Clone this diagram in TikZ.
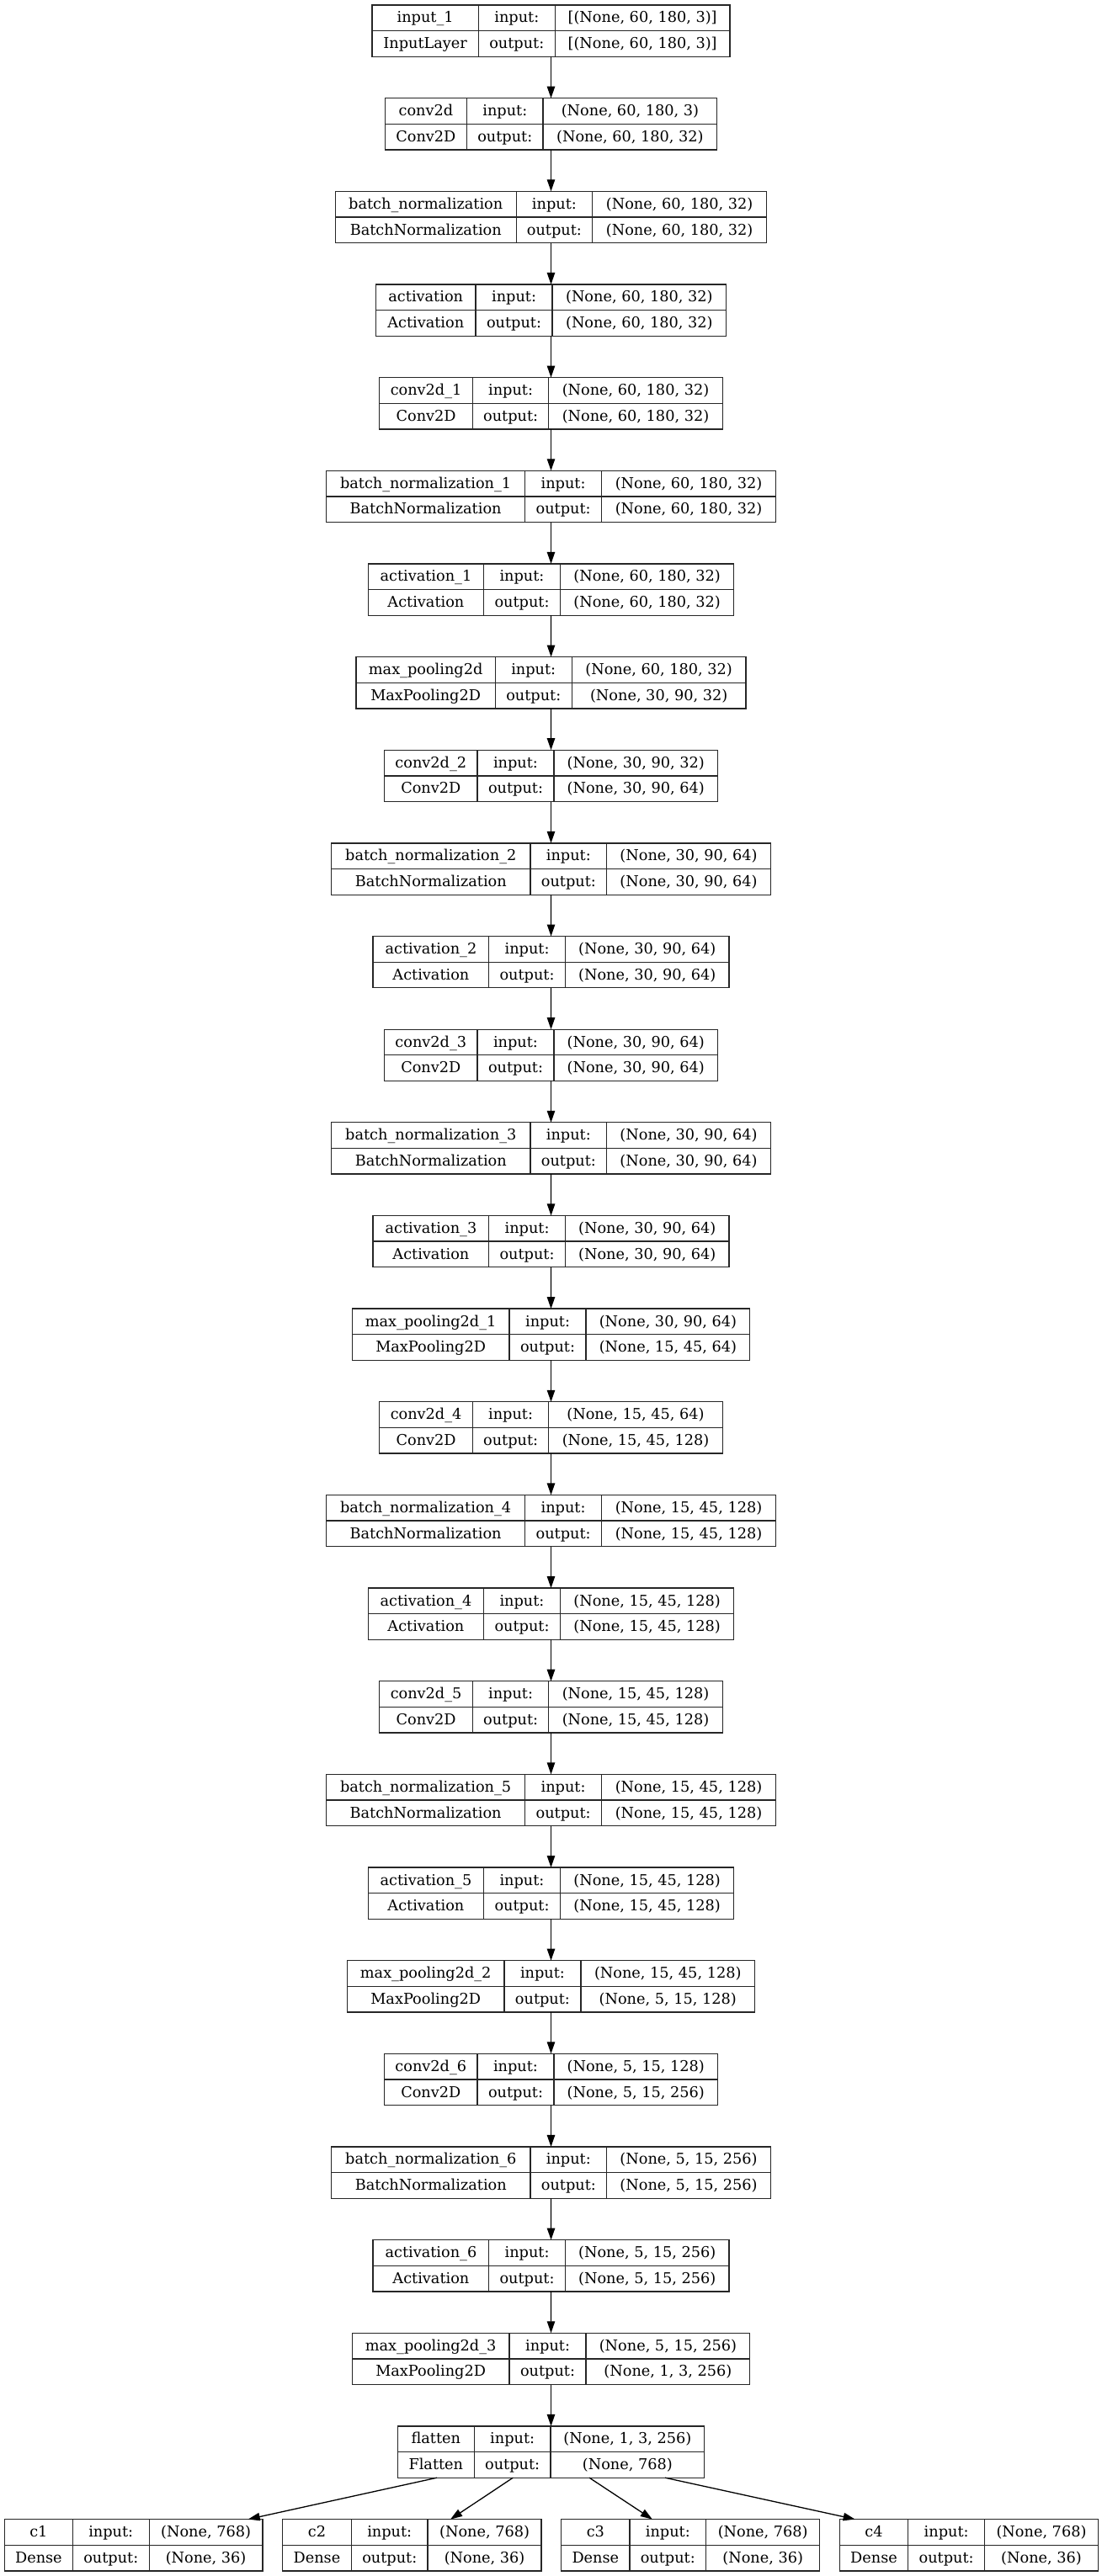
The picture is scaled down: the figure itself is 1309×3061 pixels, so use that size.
\documentclass[tikz,border=0pt]{standalone}
\usepackage{fontspec}
\setmainfont{DejaVu Serif}
\usetikzlibrary{arrows.meta,calc}
\def\getfour#1,#2,#3,#4\relax{\def\xL{#1}\def\xA{#2}\def\xB{#3}\def\xR{#4}}
\newcommand\nnlayer[7]{%
  \getfour#3\relax
  \pgfmathsetmacro\yT{6+#2*110.65}%
  \pgfmathsetmacro\yM{\yT+30.65}%
  \pgfmathsetmacro\yB{\yT+61.3}%
  \pgfmathsetmacro\yU{\yT+21}%
  \pgfmathsetmacro\yD{\yT+51.7}%
  \pgfmathsetmacro\layerw{(\xR-\xL)*0.5}%
  \node[layerbox,minimum width=\layerw pt] (#1) at ({(\xL+\xR)/2},\yM) {};
  \draw[cellline] (\xL,\yM) -- (\xR,\yM) (\xA,\yT) -- (\xA,\yB) (\xB,\yT) -- (\xB,\yB);
  \node[celltext] at ({(\xL+\xA)/2},\yU) {#4};
  \node[celltext] at ({(\xL+\xA)/2},\yD) {#5};
  \node[celltext] at ({(\xA+\xB)/2},\yU) {input:};
  \node[celltext] at ({(\xA+\xB)/2},\yD) {output:};
  \node[celltext] at ({(\xB+\xR)/2},\yU) {#6};
  \node[celltext] at ({(\xB+\xR)/2},\yD) {#7};
}
\begin{document}
\begin{tikzpicture}[x=0.5pt,y=-0.5pt,
  layerbox/.style={draw=black!85,line width=0.65pt,minimum height=30.65pt,inner sep=0pt,outer sep=0pt},
  cellline/.style={draw=black!85,line width=0.65pt},
  celltext/.style={anchor=base,inner sep=0pt,font=\fontsize{8.85pt}{10pt}\selectfont},
  arr/.style={line width=0.65pt,-{Triangle[length=7pt,width=4.7pt]}}]
\useasboundingbox (0,0) rectangle (1309,3061);
\def\BN{BatchNormalization}
\nnlayer{L0}{0}{442,568.3,659.3,867}{input\_1}{InputLayer}{[(None, 60, 180, 3)]}{[(None, 60, 180, 3)]}
\nnlayer{L1}{1}{457.2,554.6,645,851.8}{conv2d}{Conv2D}{(None, 60, 180, 3)}{(None, 60, 180, 32)}
\nnlayer{L2}{2}{398.3,613.2,703.6,910.7}{batch\_normalization}{\BN}{(None, 60, 180, 32)}{(None, 60, 180, 32)}
\nnlayer{L3}{3}{446.5,565,656.1,862.5}{activation}{Activation}{(None, 60, 180, 32)}{(None, 60, 180, 32)}
\nnlayer{L4}{4}{450.8,561.4,651.8,858.2}{conv2d\_1}{Conv2D}{(None, 60, 180, 32)}{(None, 60, 180, 32)}
\nnlayer{L5}{5}{387.6,623.6,714.6,921.4}{batch\_normalization\_1}{\BN}{(None, 60, 180, 32)}{(None, 60, 180, 32)}
\nnlayer{L6}{6}{437.2,574.6,665.4,871.8}{activation\_1}{Activation}{(None, 60, 180, 32)}{(None, 60, 180, 32)}
\nnlayer{L7}{7}{423.1,588.2,679.3,886}{max\_pooling2d}{MaxPooling2D}{(None, 60, 180, 32)}{(None, 30, 90, 32)}
\nnlayer{L8}{8}{456.5,567.1,657.9,852.5}{conv2d\_2}{Conv2D}{(None, 30, 90, 32)}{(None, 30, 90, 64)}
\nnlayer{L9}{9}{393.6,630,720.7,915.4}{batch\_normalization\_2}{\BN}{(None, 30, 90, 64)}{(None, 30, 90, 64)}
\nnlayer{L10}{10}{443.1,580.7,671.4,866}{activation\_2}{Activation}{(None, 30, 90, 64)}{(None, 30, 90, 64)}
\nnlayer{L11}{11}{456.5,567.1,657.9,852.5}{conv2d\_3}{Conv2D}{(None, 30, 90, 64)}{(None, 30, 90, 64)}
\nnlayer{L12}{12}{393.6,630,720.7,915.4}{batch\_normalization\_3}{\BN}{(None, 30, 90, 64)}{(None, 30, 90, 64)}
\nnlayer{L13}{13}{443.1,580.7,671.4,866}{activation\_3}{Activation}{(None, 30, 90, 64)}{(None, 30, 90, 64)}
\nnlayer{L14}{14}{418.3,605,696.1,890.7}{max\_pooling2d\_1}{MaxPooling2D}{(None, 30, 90, 64)}{(None, 15, 45, 64)}
\nnlayer{L15}{15}{450.8,561.4,651.8,858.2}{conv2d\_4}{Conv2D}{(None, 15, 45, 64)}{(None, 15, 45, 128)}
\nnlayer{L16}{16}{387.6,623.6,714.6,921.4}{batch\_normalization\_4}{\BN}{(None, 15, 45, 128)}{(None, 15, 45, 128)}
\nnlayer{L17}{17}{437.2,574.6,665.4,871.8}{activation\_4}{Activation}{(None, 15, 45, 128)}{(None, 15, 45, 128)}
\nnlayer{L18}{18}{450.8,561.4,651.8,858.2}{conv2d\_5}{Conv2D}{(None, 15, 45, 128)}{(None, 15, 45, 128)}
\nnlayer{L19}{19}{387.6,623.6,714.6,921.4}{batch\_normalization\_5}{\BN}{(None, 15, 45, 128)}{(None, 15, 45, 128)}
\nnlayer{L20}{20}{437.2,574.6,665.4,871.8}{activation\_5}{Activation}{(None, 15, 45, 128)}{(None, 15, 45, 128)}
\nnlayer{L21}{21}{412.5,598.9,690,896.5}{max\_pooling2d\_2}{MaxPooling2D}{(None, 15, 45, 128)}{(None, 5, 15, 128)}
\nnlayer{L22}{22}{456.5,567.1,657.9,852.5}{conv2d\_6}{Conv2D}{(None, 5, 15, 128)}{(None, 5, 15, 256)}
\nnlayer{L23}{23}{393.6,630,720.7,915.4}{batch\_normalization\_6}{\BN}{(None, 5, 15, 256)}{(None, 5, 15, 256)}
\nnlayer{L24}{24}{443.1,580.7,671.4,866}{activation\_6}{Activation}{(None, 5, 15, 256)}{(None, 5, 15, 256)}
\nnlayer{L25}{25}{418.3,605,696.1,890.7}{max\_pooling2d\_3}{MaxPooling2D}{(None, 5, 15, 256)}{(None, 1, 3, 256)}
\nnlayer{L26}{26}{472.3,563.3,654,836.7}{flatten}{Flatten}{(None, 1, 3, 256)}{(None, 768)}
\nnlayer{c1}{27}{5.5,86.3,177.2,311.9}{c1}{Dense}{(None, 768)}{(None, 36)}
\nnlayer{c2}{27}{335.4,417.5,508,643.1}{c2}{Dense}{(None, 768)}{(None, 36)}
\nnlayer{c3}{27}{666.8,747.9,838.7,973.7}{c3}{Dense}{(None, 768)}{(None, 36)}
\nnlayer{c4}{27}{997.2,1078.8,1169.5,1304.5}{c4}{Dense}{(None, 768)}{(None, 36)}
\foreach \i [evaluate=\i as \j using int(\i+1)] in {0,...,25}
  \draw[arr] (L\i.south) -- (L\j.north);
\draw[arr] ($(L26.south west)!0.128!(L26.south east)$) -- ($(c1.north west)!0.944!(c1.north east)$);
\draw[arr] ($(L26.south west)!0.376!(L26.south east)$) -- ($(c2.north west)!0.649!(c2.north east)$);
\draw[arr] ($(L26.south west)!0.625!(L26.south east)$) -- ($(c3.north west)!0.352!(c3.north east)$);
\draw[arr] ($(L26.south west)!0.872!(L26.south east)$) -- ($(c4.north west)!0.06!(c4.north east)$);
\end{tikzpicture}
\end{document}
